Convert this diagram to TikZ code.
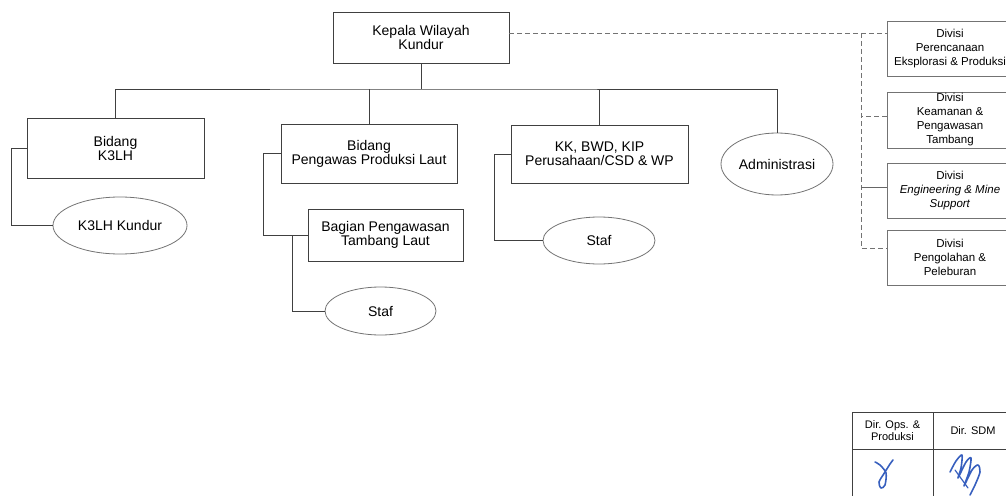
\documentclass[tikz,border=0pt]{standalone}
\usepackage{fontspec}
\setmainfont{Liberation Sans}
\usetikzlibrary{shapes.geometric}
\definecolor{tinta}{RGB}{55,95,190}

\begin{document}
\begin{tikzpicture}[x=1pt,y=-1pt,
  kotak/.style={draw=black!75,line width=0.9pt,rectangle,align=center,inner sep=0pt,font=\fontsize{14}{14}\selectfont},
  elips/.style={draw=black!55,line width=0.8pt,ellipse,inner sep=0pt,font=\fontsize{14}{14}\selectfont},
  divisi/.style={draw=black!55,line width=0.9pt,rectangle,align=center,inner sep=0pt,minimum width=126pt,minimum height=55pt,font=\fontsize{11.5}{14}\selectfont},
  garis/.style={draw=black!75,line width=0.9pt},
  putus/.style={draw=black!55,line width=0.9pt,dash pattern=on 5pt off 3pt},
  ttd/.style={draw=tinta,line width=1.6pt,line cap=round,line join=round}]
  \useasboundingbox (0,0) rectangle (1006,495);
  \clip (0,0) rectangle (1006,495);

  \node[kotak,minimum width=176pt,minimum height=51pt] (kepala) at (421,37.5) {Kepala Wilayah\\Kundur};
  \node[kotak,minimum width=177pt,minimum height=60pt] (k3lh) at (115.5,148) {Bidang\\K3LH};
  \node[kotak,minimum width=176pt,minimum height=59pt] (bidpp) at (369,153.5) {Bidang\\Pengawas Produksi Laut};
  \node[kotak,minimum width=177pt,minimum height=58pt] (kk) at (599.5,154) {KK, BWD, KIP\\Perusahaan/CSD \& WP};
  \node[elips,minimum width=112pt,minimum height=62pt] (admin) at (777,164) {Administrasi};
  \node[elips,minimum width=134pt,minimum height=57pt] (kundur) at (120,225.5) {K3LH Kundur};
  \node[kotak,minimum width=155pt,minimum height=52pt] (bagian) at (385.5,235) {Bagian Pengawasan\\Tambang Laut};
  \node[elips,minimum width=111pt,minimum height=48pt] (staf1) at (380.5,311) {Staf};
  \node[elips,minimum width=112pt,minimum height=47pt] (staf2) at (599,240.5) {Staf};

  \node[divisi] (div1) at (950,48.5) {Divisi\\Perencanaan\\Eksplorasi \& Produksi};
  \node[divisi,minimum height=56pt] (div2) at (950,120) {Divisi\\Keamanan \&\\Pengawasan\\Tambang};
  \node[divisi] (div3) at (950,190.5) {Divisi\\\textit{Engineering \& Mine}\\\textit{Support}};
  \node[divisi] (div4) at (950,257.5) {Divisi\\Pengolahan \&\\Peleburan};

  \coordinate (bus) at (421,89);
  \coordinate (cabang) at (861,33);
  \draw[garis] (kepala.south) -- (bus);
  \draw[garis] (k3lh.north) |- (bus) -| (admin.north);
  \draw[garis] (bidpp.north) -- (bidpp.north |- bus);
  \draw[garis] (kk.north) -- (kk.north |- bus);

  \draw[garis] (k3lh.west) -- +(-15,0) |- (kundur.west);
  \draw[garis] (bidpp.west) -- +(-17,0) |- (bagian.west);
  \draw[garis] ([xshift=-15pt]bagian.west) |- (staf1.west);
  \draw[garis] (kk.west) -- +(-16,0) |- (staf2.west);

  \draw[putus] ([yshift=4.5pt]kepala.east) -- ([yshift=15.5pt]div1.west);
  \draw[putus] (cabang) |- ([yshift=9.5pt]div4.west);
  \draw[putus] ([yshift=4pt]div2.west) -- +(-26,0);
  \draw[garis,draw=black!60] ([yshift=3.5pt]div3.west) -- +(-26,0);

  \node[font=\fontsize{11}{10}\selectfont,align=center] (dirops) at (892.5,430.5) {Dir. Ops. \&\\Produksi};
  \node[font=\fontsize{11}{10}\selectfont] (dirsdm) at (973,430.5) {Dir. SDM};
  \draw[garis,line width=0.7pt] (852,412) rectangle (1014,520);
  \draw[garis,line width=0.7pt] (852,449) -- (1014,449);
  \draw[garis,line width=0.7pt] (933,412) -- (933,520);
  \draw[ttd] plot[smooth] coordinates {(875,462) (880,465) (886,473) (885,485) (881,488) (879,482) (885,472) (890,464) (893,460)};
  \draw[ttd] plot[smooth] coordinates {(950,472) (956,461) (962,455) (961,468) (958,478) (966,462) (971,458) (969,472) (964,486) (972,470) (978,465) (980,472) (975,485) (970,495)};
  \draw[ttd,line width=1.2pt] (955,470) -- (968,488);
\end{tikzpicture}
\end{document}
